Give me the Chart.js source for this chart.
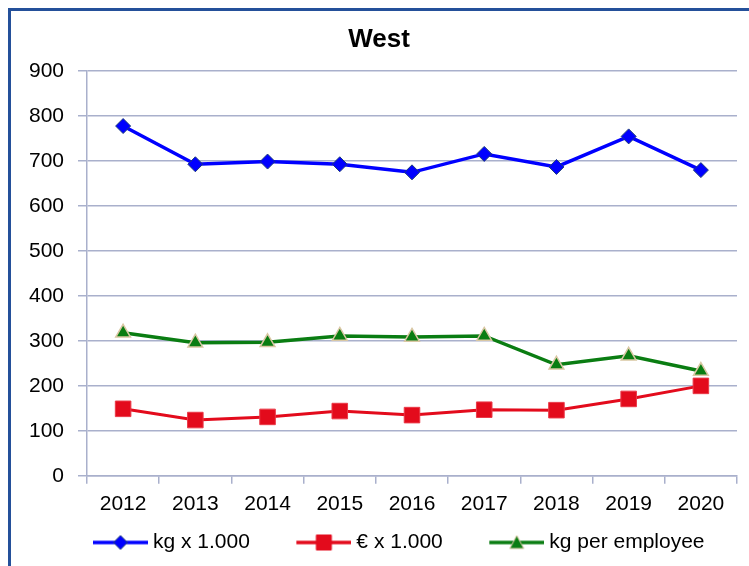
<!DOCTYPE html>
<html>
<head>
<meta charset="utf-8">
<script src="https://cdn.jsdelivr.net/npm/chart.js@4"></script>
<style>
  html, body { margin: 0; padding: 0; background: #fff; }
  #wrap { position: relative; width: 749px; height: 566px; overflow: hidden; }
  #frame { position: absolute; left: 8px; top: 8px; width: 800px; height: 600px;
           border-left: 3px solid #24509a; border-top: 3px solid #24509a; pointer-events: none; }
</style>
</head>
<body>
<div id="wrap">
  <canvas id="grafico" width="749" height="566"></canvas>
  <div id="frame"></div>
</div>
<script>
// dados
var anos = ['2012', '2013', '2014', '2015', '2016', '2017', '2018', '2019', '2020'];
var kgMil = [778, 693, 699, 693, 675, 716, 687, 755, 680];
var euroMil = [149, 124, 131, 144, 135, 147, 146, 171, 200];
var kgPorEmpregado = [318, 296, 297, 311, 309, 311, 247, 267, 233];
var ticksY = [0, 100, 200, 300, 400, 500, 600, 700, 800, 900];

var fonte = 'Liberation Sans';

// icone da legenda: espaco vazio + linha + marcador
var ESPACO = 45;
function iconeLegenda(cor, borda, forma) {
  var c = document.createElement('canvas');
  c.width = ESPACO + 55; c.height = 18;
  var g = c.getContext('2d');
  var x0 = ESPACO, cx = ESPACO + 27.5;
  g.strokeStyle = cor; g.lineWidth = 3.5;
  g.beginPath(); g.moveTo(x0, 9); g.lineTo(x0 + 55, 9); g.stroke();
  g.fillStyle = cor; g.strokeStyle = borda; g.lineWidth = 1;
  g.beginPath();
  if (forma === 'diamond') {
    g.moveTo(cx, 2); g.lineTo(cx + 7, 9); g.lineTo(cx, 16); g.lineTo(cx - 7, 9); g.closePath();
  } else if (forma === 'square') {
    g.rect(cx - 7.5, 1.5, 15, 15);
  } else {
    g.moveTo(cx, 2); g.lineTo(cx + 7, 15); g.lineTo(cx - 7, 15); g.closePath();
  }
  g.fill(); g.stroke();
  return c;
}

var icones = [
  iconeLegenda('#0000ff', '#1f3d7a', 'diamond'),
  iconeLegenda('#e30b1c', '#e30b1c', 'square'),
  iconeLegenda('#0a7d12', '#d9c7a3', 'triangle')
];

var ctx = document.getElementById('grafico').getContext('2d');
var grafico = new Chart(ctx, {
  type: 'line',
  data: {
    labels: anos,
    datasets: [{
      label: 'kg x 1.000',
      data: kgMil,
      borderColor: '#0000ff',
      backgroundColor: '#0000ff',
      borderWidth: 3.5,
      pointStyle: 'rectRot',
      pointRadius: 7.5,
      pointBorderColor: '#1f3d7a',
      pointBorderWidth: 1
    }, {
      label: '€ x 1.000',
      data: euroMil,
      borderColor: '#e30b1c',
      backgroundColor: '#e30b1c',
      borderWidth: 3,
      pointStyle: 'rect',
      pointRadius: 11,
      pointBorderColor: '#ea3a48',
      pointBorderWidth: 1
    }, {
      label: 'kg per employee',
      data: kgPorEmpregado,
      borderColor: '#0a7d12',
      backgroundColor: '#0a7d12',
      borderWidth: 3.5,
      pointStyle: 'triangle',
      pointRadius: 8.5,
      pointBorderColor: '#d9c7a3',
      pointBorderWidth: 1.5
    }]
  },
  options: {
    responsive: false,
    animation: false,
    layout: { padding: { left: 12, right: 3, top: 14, bottom: 3 } },
    plugins: {
      title: {
        display: true,
        text: 'West',
        color: '#000',
        font: { family: fonte, size: 26, weight: 'bold' },
        padding: { top: 10, bottom: 16 }
      },
      legend: {
        position: 'bottom',
        labels: {
          usePointStyle: true,
          pointStyleWidth: ESPACO + 55 - 11,
          color: '#000',
          font: { family: fonte, size: 21 },
          padding: 7,
          generateLabels: function(chart) {
            return chart.data.datasets.map(function(ds, i) {
              return { text: ds.label, pointStyle: icones[i], datasetIndex: i,
                       fillStyle: ds.borderColor, strokeStyle: ds.borderColor, lineWidth: 0 };
            });
          }
        }
      },
      tooltip: { enabled: false }
    },
    scales: {
      x: {
        offset: true,
        grid: { offset: true, drawOnChartArea: false, color: '#a9b0cc', tickLength: 8, lineWidth: 1.5 },
        border: { color: '#a9b0cc', width: 1.5 },
        ticks: { color: '#000', font: { family: fonte, size: 21 }, padding: 8, maxRotation: 0 }
      },
      y: {
        min: 0,
        max: 900,
        afterBuildTicks: function(axis) {
          axis.ticks = ticksY.map(function(v) { return { value: v }; });
        },
        afterFit: function(axis) { axis.width = 75; },
        grid: { color: '#a9b0cc', tickLength: 9, lineWidth: 1.5 },
        border: { color: '#a9b0cc', width: 1.5 },
        ticks: { color: '#000', font: { family: fonte, size: 21 }, padding: 14 }
      }
    }
  }
});
</script>
</body>
</html>
